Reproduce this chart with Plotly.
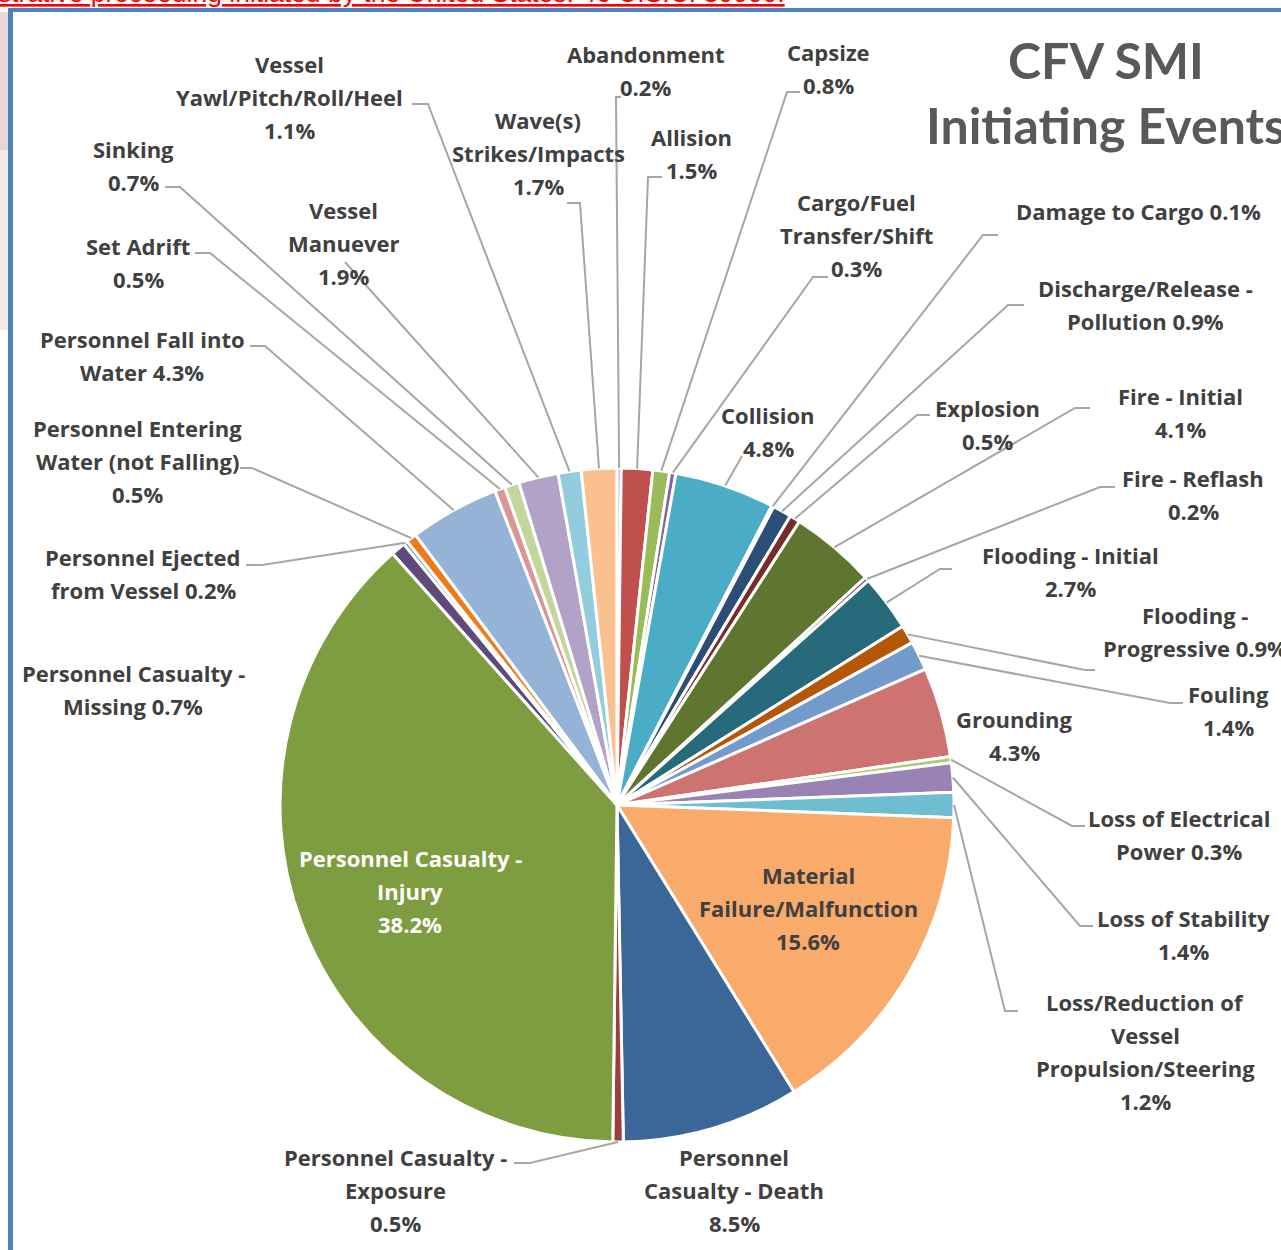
import math
import plotly.graph_objects as go

W, H = 1281, 1250

categories = [
    "Abandonment", "Allision", "Capsize", "Cargo/Fuel Transfer/Shift", "Collision",
    "Damage to Cargo", "Discharge/Release - Pollution", "Explosion", "Fire - Initial",
    "Fire - Reflash", "Flooding - Initial", "Flooding - Progressive", "Fouling",
    "Grounding", "Loss of Electrical Power", "Loss of Stability",
    "Loss/Reduction of Vessel Propulsion/Steering", "Material Failure/Malfunction",
    "Personnel Casualty - Death", "Personnel Casualty - Exposure",
    "Personnel Casualty - Injury", "Personnel Casualty - Missing",
    "Personnel Ejected from Vessel", "Personnel Entering Water (not Falling)",
    "Personnel Fall into Water", "Set Adrift", "Sinking", "Vessel Manuever",
    "Vessel Yawl/Pitch/Roll/Heel", "Wave(s) Strikes/Impacts",
]
values = [
    0.2, 1.5, 0.8, 0.3, 4.8,
    0.1, 0.9, 0.5, 4.1,
    0.2, 2.7, 0.9, 1.4,
    4.3, 0.3, 1.4,
    1.2, 15.6,
    8.5, 0.5,
    38.2, 0.7,
    0.2, 0.5,
    4.3, 0.5, 0.7, 1.9,
    1.1, 1.7,
]
colors = [
    "#4F81BD", "#C0504D", "#9BBB59", "#8064A2", "#4BACC6",
    "#F79646", "#2C4D75", "#772C2A", "#5F7530",
    "#4D3B62", "#276A7C", "#B65708", "#729ACA",
    "#CD7371", "#AFC97A", "#9983B5",
    "#6FBDD1", "#F9AB6B",
    "#3A6698", "#9E3E3B",
    "#7E9C40", "#604A7B",
    "#3E96AE", "#F07A18",
    "#95B3D7", "#D99694", "#C3D69B", "#B3A2C7",
    "#93CDDD", "#FAC090",
]

title_lines = ["CFV SMI", "Initiating Events"]
top_note = "strative proceeding initiated by the United States. 46 U.S.C. 30000."

# label layout: lines (with {p} placeholder), centre x, first-line y, text colour,
# leader path points (pixels) after the slice edge point
label_layout = {
    "Abandonment": (["Abandonment", "{p}"], 645, 54, None, [(616, 97), (621, 97)]),
    "Allision": (["Allision", "{p}"], 691, 137, None, [(648, 177), (662, 177)]),
    "Capsize": (["Capsize", "{p}"], 828, 52, None, [(787, 92), (800, 92)]),
    "Cargo/Fuel Transfer/Shift": (["Cargo/Fuel", "Transfer/Shift", "{p}"], 856, 202, None, [(813, 277), (828, 277)]),
    "Collision": (["Collision", "{p}"], 768, 415, None, [(742, 456)]),
    "Damage to Cargo": (["Damage to Cargo {p}"], 1138, 211, None, [(983, 235), (998, 235)]),
    "Discharge/Release - Pollution": (["Discharge/Release -", "Pollution {p}"], 1145, 288, None, [(1008, 305), (1024, 305)]),
    "Explosion": (["Explosion", "{p}"], 987, 408, None, [(917, 415), (930, 415)]),
    "Fire - Initial": (["Fire - Initial", "{p}"], 1180, 396, None, [(1075, 408), (1090, 408)]),
    "Fire - Reflash": (["Fire - Reflash", "{p}"], 1193, 478, None, [(1100, 487), (1115, 487)]),
    "Flooding - Initial": (["Flooding - Initial", "{p}"], 1070, 555, None, [(940, 569), (952, 569)]),
    "Flooding - Progressive": (["Flooding -", "Progressive {p}"], 1195, 615, None, [(1085, 670), (1095, 670)]),
    "Fouling": (["Fouling", "{p}"], 1228, 694, None, [(1170, 703), (1183, 703)]),
    "Grounding": (["Grounding", "{p}"], 1014, 719, None, None),
    "Loss of Electrical Power": (["Loss of Electrical", "Power {p}"], 1179, 818, None, [(1072, 826), (1085, 826)]),
    "Loss of Stability": (["Loss of Stability", "{p}"], 1183, 918, None, [(1080, 926), (1093, 926)]),
    "Loss/Reduction of Vessel Propulsion/Steering": (["Loss/Reduction of", "Vessel", "Propulsion/Steering", "{p}"], 1145, 1002, None, [(1005, 1011), (1018, 1011)]),
    "Material Failure/Malfunction": (["Material", "Failure/Malfunction", "{p}"], 808, 875, "#404040", None),
    "Personnel Casualty - Death": (["Personnel", "Casualty - Death", "{p}"], 734, 1157, None, None),
    "Personnel Casualty - Exposure": (["Personnel Casualty -", "Exposure", "{p}"], 395, 1157, None, [(530, 1163), (514, 1163)]),
    "Personnel Casualty - Injury": (["Personnel Casualty -", "Injury", "{p}"], 410, 858, "#FFFFFF", None),
    "Personnel Casualty - Missing": (["Personnel Casualty -", "Missing {p}"], 133, 673, None, None),
    "Personnel Ejected from Vessel": (["Personnel Ejected", "from Vessel {p}"], 143, 557, None, [(262, 565), (246, 565)]),
    "Personnel Entering Water (not Falling)": (["Personnel Entering", "Water (not Falling)", "{p}"], 137, 428, None, [(252, 468), (240, 468)]),
    "Personnel Fall into Water": (["Personnel Fall into", "Water {p}"], 142, 339, None, [(265, 346), (250, 346)]),
    "Set Adrift": (["Set Adrift", "{p}"], 138, 246, None, [(210, 253), (195, 253)]),
    "Sinking": (["Sinking", "{p}"], 133, 149, None, [(180, 187), (165, 187)]),
    "Vessel Manuever": (["Vessel", "Manuever", "{p}"], 343, 210, None, [(345, 262)]),
    "Vessel Yawl/Pitch/Roll/Heel": (["Vessel", "Yawl/Pitch/Roll/Heel", "{p}"], 289, 64, None, [(428, 104), (412, 104)]),
    "Wave(s) Strikes/Impacts": (["Wave(s)", "Strikes/Impacts", "{p}"], 538, 120, None, [(580, 203), (567, 203)]),
}

CX, CY, R = 617, 805, 337
LINE_H = 33
FONT = "Open Sans"
FONT_SIZE = 22
TEXT_C = "#404040"


def px(x):
    return x / W


def py(y):
    return 1 - y / H


fig = go.Figure(go.Pie(
    labels=categories,
    values=values,
    sort=False,
    direction="clockwise",
    rotation=0,
    marker=dict(colors=colors, line=dict(color="white", width=3)),
    textinfo="none",
    hoverinfo="label+percent",
    showlegend=False,
    domain=dict(x=[px(CX - R), px(CX + R)], y=[py(CY + R), py(CY - R)]),
))

annotations = []
shapes = []

total = sum(values)
cum = 0.0
for cat, v in zip(categories, values):
    mid = (cum + v / 2) / total * 2 * math.pi
    cum += v
    lines, lx, ly, tc, leader = label_layout[cat]
    pct = f"{v:.1f}%"
    for i, ln in enumerate(lines):
        annotations.append(dict(
            x=px(lx), y=py(ly + i * LINE_H), xref="paper", yref="paper",
            text=ln.replace("{p}", pct), showarrow=False,
            xanchor="center", yanchor="middle",
            font=dict(family=FONT, size=FONT_SIZE, color=tc or TEXT_C, weight="bold"),
        ))
    if leader:
        sx = CX + R * math.sin(mid)
        sy = CY - R * math.cos(mid)
        pts = [(sx, sy)] + leader
        path = "M " + " L ".join(f"{px(a)},{py(b)}" for a, b in pts)
        shapes.append(dict(type="path", path=path, xref="paper", yref="paper",
                           line=dict(color="#A6A6A6", width=2)))

# title
for i, t in enumerate(title_lines):
    annotations.append(dict(
        x=px(1106), y=py(60 + i * 65), xref="paper", yref="paper", text=t,
        showarrow=False, xanchor="center", yanchor="middle",
        font=dict(family="Lato", size=50, color="#595959", weight="bold"),
    ))

# clipped note at the very top
annotations.append(dict(
    x=px(-4), y=py(-7), xref="paper", yref="paper", text=f"<u>{top_note}</u>",
    showarrow=False, xanchor="left", yanchor="middle",
    font=dict(family="Liberation Sans", size=26.5, color="#FF0000"),
))

# frame and background strip
shapes += [
    dict(type="rect", xref="paper", yref="paper", x0=px(0), x1=px(8), y0=py(12), y1=py(150),
         fillcolor="#E9D6DA", line=dict(width=0), layer="below"),
    dict(type="rect", xref="paper", yref="paper", x0=px(0), x1=px(8), y0=py(150), y1=py(330),
         fillcolor="#F3E8EA", line=dict(width=0), layer="below"),
    dict(type="line", xref="paper", yref="paper", x0=px(10.5), x1=px(10.5), y0=py(8), y1=py(1260),
         line=dict(color="#4F81BD", width=5)),
    dict(type="line", xref="paper", yref="paper", x0=px(8), x1=px(1290), y0=py(10), y1=py(10),
         line=dict(color="#4F81BD", width=4)),
]

fig.update_layout(
    width=W, height=H,
    margin=dict(l=0, r=0, t=0, b=0),
    paper_bgcolor="white",
    plot_bgcolor="white",
    annotations=annotations,
    shapes=shapes,
)

fig.write_html(
    "out.html",
    config={"displayModeBar": False},
    post_script="document.body.style.margin='0';document.body.style.overflow='hidden';",
)
